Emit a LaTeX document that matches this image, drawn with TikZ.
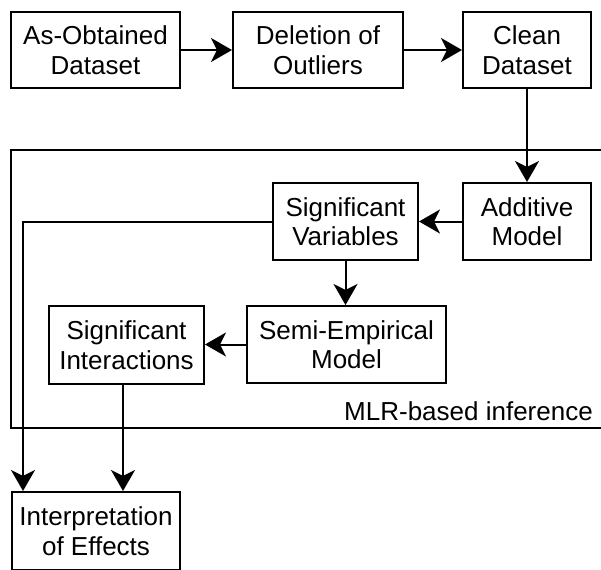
\documentclass[tikz,border=0pt]{standalone}
\usepackage{fontspec}
\setmainfont{Liberation Sans}
\usetikzlibrary{arrows.meta,calc}
\begin{document}
\begin{tikzpicture}[x=1pt,y=-1pt,
  stepbox/.style={draw,line width=2pt,align=center,inner sep=0pt,
    font=\fontsize{26}{29.5}\selectfont},
  conn/.style={line width=2pt},
  arr/.style={conn,-{Stealth[length=21pt,width=24pt,inset=6pt]}}]
\useasboundingbox (0,0) rectangle (601,569);
\clip (0,0) rectangle (601,569);
% frame
\draw[conn] (620,150) -- (11,150) -- (11,428) -- (620,428);
\node[anchor=base east,inner sep=0pt,font=\fontsize{26}{29.5}\selectfont] (lbl) at (593,420) {MLR-based inference};
% boxes
\node[stepbox,minimum width=169pt,minimum height=76pt] (b1) at (95.5,50) {As-Obtained\\Dataset};
\node[stepbox,minimum width=170pt,minimum height=76pt] (b2) at (318,50) {Deletion of\\Outliers};
\node[stepbox,minimum width=128pt,minimum height=76pt] (b3) at (527,50) {Clean\\Dataset};
\node[stepbox,minimum width=128pt,minimum height=77pt] (add) at (527,221.5) {Additive\\Model};
\node[stepbox,minimum width=145pt,minimum height=77pt] (sv) at (345.5,221.5) {Significant\\Variables};
\node[stepbox,minimum width=199pt,minimum height=77pt] (semi) at (346.5,344.5) {Semi-Empirical\\Model};
\node[stepbox,minimum width=155pt,minimum height=78pt] (si) at (126.5,345) {Significant\\Interactions};
\node[stepbox,minimum width=168pt,minimum height=78pt] (ie) at (96,531) {Interpretation\\of Effects};
\coordinate (ieL) at ($(ie.north west)+(12,0)$);
\coordinate (ieR) at ($(ie.north west)+(112,0)$);
% connectors
\draw[arr] (b1.east) -- (b2.west);
\draw[arr] (b2.east) -- (b3.west);
\draw[arr] (b3.south) -- (add.north);
\draw[arr] (add.west) -- (sv.east);
\draw[arr] (sv.south) -- (sv.south |- semi.north);
\draw[arr] (semi.west) -- (semi.west -| si.east);
\draw[arr] (sv.west) -| (ieL);
\draw[arr] (si.south -| ieR) -- (ieR);
\end{tikzpicture}
\end{document}
